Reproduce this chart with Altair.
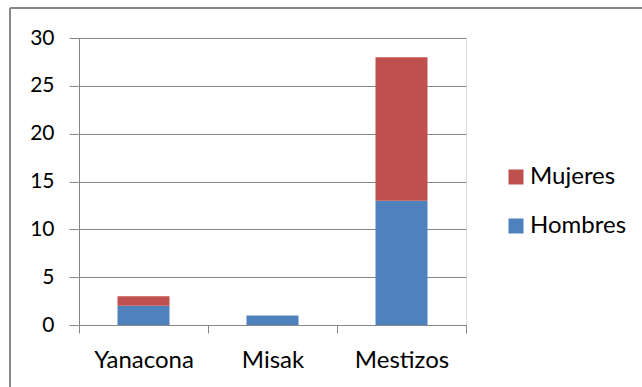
import altair as alt
import pandas as pd

categorias = ["Yanacona", "Misak", "Mestizos"]
hombres = [2, 1, 13]
mujeres = [1, 0, 15]
series = ["Mujeres", "Hombres"]
colores = ["#C0504D", "#4F81BD"]
y_ticks = [0, 5, 10, 15, 20, 25, 30]

rows = []
for c, h, m in zip(categorias, hombres, mujeres):
    rows.append({"cat": c, "serie": "Hombres", "valor": h, "orden": 0})
    rows.append({"cat": c, "serie": "Mujeres", "valor": m, "orden": 1})
df = pd.DataFrame(rows)

FONT = "Lato"
GRAY = "#868686"

bars = alt.Chart(df).mark_bar(width=52).encode(
    x=alt.X("cat:N", sort=categorias, title=None,
            scale=alt.Scale(paddingInner=0, paddingOuter=0),
            axis=alt.Axis(labelAngle=0, tickBand="extent", grid=False,
                          domain=True, domainColor=GRAY, tickColor=GRAY,
                          tickSize=8, labelFontSize=24, labelFont=FONT,
                          labelColor="#000", labelPadding=15)),
    y=alt.Y("valor:Q", stack="zero", title=None,
            scale=alt.Scale(domain=[0, 30], nice=False),
            axis=alt.Axis(values=y_ticks, grid=True, gridColor=GRAY,
                          domainColor=GRAY, tickColor=GRAY, tickSize=10,
                          labelFontSize=21, labelFont=FONT, labelColor="#000",
                          labelPadding=15)),
    color=alt.Color("serie:N", title=None,
                    scale=alt.Scale(domain=series, range=colores),
                    legend=alt.Legend(orient="none", legendX=425, legendY=127,
                                      symbolType="square", symbolSize=225,
                                      symbolStrokeWidth=0, labelFontSize=24,
                                      labelFont=FONT, labelColor="#000",
                                      labelOffset=2, rowPadding=25)),
    order=alt.Order("orden:Q", sort="ascending"),
)

frame = alt.Chart(df).mark_rect(fill=None, stroke=GRAY, strokeWidth=1).encode(
    x=alt.value(-69), y=alt.value(-30), x2=alt.value(600), y2=alt.value(400)
)

chart = alt.layer(frame, bars).properties(
    width=387, height=287,
    autosize=alt.AutoSizeParams(type="none"),
    padding={"left": 79, "top": 38, "right": 176, "bottom": 62},
).configure_view(stroke=None).configure(background="white")

chart.save("out.html", embed_options={"renderer": "svg", "actions": False})
